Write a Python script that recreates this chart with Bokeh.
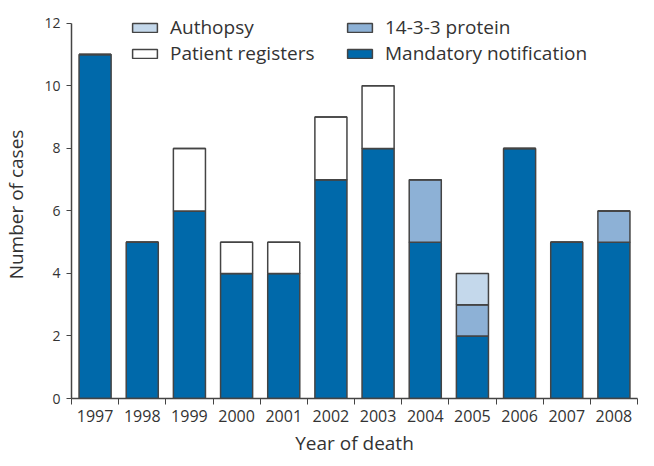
from bokeh.plotting import figure
from bokeh.models import ColumnDataSource, FixedTicker, Legend, LegendItem, Range1d
from bokeh.embed import file_html
from bokeh.resources import INLINE

years = ["1997", "1998", "1999", "2000", "2001", "2002", "2003", "2004", "2005", "2006", "2007", "2008"]
mandatory = [11, 5, 6, 4, 4, 7, 8, 5, 2, 8, 5, 5]
protein = [0, 0, 0, 0, 0, 0, 0, 2, 1, 0, 0, 1]
registers = [0, 0, 2, 1, 1, 2, 2, 0, 0, 0, 0, 0]
autopsy = [0, 0, 0, 0, 0, 0, 0, 0, 1, 0, 0, 0]
y_ticks = [0, 2, 4, 6, 8, 10, 12]

series = ["mandatory", "protein", "registers", "autopsy"]
labels = {"mandatory": "Mandatory notification", "protein": "14-3-3 protein",
          "registers": "Patient registers", "autopsy": "Authopsy"}
colors = {"mandatory": "#0069aa", "protein": "#8db1d6", "registers": "#ffffff", "autopsy": "#c4d8eb"}

FONT = "Open Sans"
TXT = "#333333"

W, H = 638, 458
TOP, BOTTOM, LEFT, RIGHT = 10, 58, 64, 1
FRAME_H = H - TOP - BOTTOM
Y_MAX = 12.41  # frame headroom above the top tick (axis itself bounded to 0..12)

x = [i + 0.5 for i in range(len(years))]
data = dict(x=x, mandatory=mandatory, protein=protein, registers=registers, autopsy=autopsy)
src = ColumnDataSource(data)

p = figure(width=W, height=H, output_backend="svg", toolbar_location=None,
           x_range=Range1d(0, len(years)), y_range=Range1d(0, Y_MAX),
           min_border_left=LEFT, min_border_right=RIGHT, min_border_top=TOP, min_border_bottom=BOTTOM)
p.outline_line_color = None
p.xgrid.grid_line_color = None
p.ygrid.grid_line_color = None
p.background_fill_color = "white"
p.border_fill_color = "white"

renderers = p.vbar_stack(series, x="x", width=0.68, source=src,
                         fill_color=[colors[s] for s in series],
                         line_color="#444444", line_width=1.5)
rmap = dict(zip(series, renderers))

# axes
p.xaxis.ticker = FixedTicker(ticks=x, minor_ticks=list(range(len(years) + 1)))
p.xaxis.major_label_overrides = {xi: y for xi, y in zip(x, years)}
p.xaxis.major_tick_out = 0
p.xaxis.major_tick_in = 0
p.xaxis.minor_tick_out = 6
p.xaxis.minor_tick_in = 0
p.xaxis.minor_tick_line_color = "#444444"
p.xaxis.axis_line_color = "#444444"
p.xaxis.axis_line_width = 1.5
p.xaxis.major_label_text_font = FONT
p.xaxis.major_label_text_font_size = "16px"
p.xaxis.major_label_text_color = TXT
p.xaxis.major_label_standoff = 5
p.xaxis.axis_label = "Year of death"
p.xaxis.axis_label_text_font = FONT
p.xaxis.axis_label_text_font_style = "normal"
p.xaxis.axis_label_text_font_size = "19px"
p.xaxis.axis_label_text_color = TXT
p.xaxis.axis_label_standoff = 5

p.yaxis.ticker = FixedTicker(ticks=y_ticks)
p.yaxis.bounds = (y_ticks[0], y_ticks[-1])
p.yaxis.minor_tick_line_color = None
p.yaxis.major_tick_out = 5
p.yaxis.major_tick_in = 0
p.yaxis.major_tick_line_color = "#444444"
p.yaxis.axis_line_color = "#444444"
p.yaxis.axis_line_width = 1.5
p.yaxis.major_label_text_font = FONT
p.yaxis.major_label_text_font_size = "14px"
p.yaxis.major_label_text_color = TXT
p.yaxis.major_label_standoff = 6
p.yaxis.axis_label = "Number of cases"
p.yaxis.axis_label_text_font = FONT
p.yaxis.axis_label_text_font_style = "normal"
p.yaxis.axis_label_text_font_size = "19px"
p.yaxis.axis_label_text_color = TXT
p.yaxis.axis_label_standoff = 12


def make_legend(keys, loc):
    lg = Legend(items=[LegendItem(label=labels[k], renderers=[rmap[k]]) for k in keys],
                location=loc, orientation="vertical",
                glyph_width=31, glyph_height=11, label_height=20,
                label_text_font=FONT, label_text_font_size="19px", label_text_color=TXT,
                label_standoff=10, spacing=-3, padding=0, margin=0,
                border_line_color=None, background_fill_alpha=0)
    p.add_layout(lg, "center")


make_legend(["autopsy", "registers"], (58, FRAME_H - 58))
make_legend(["protein", "mandatory"], (273, FRAME_H - 58))

open("out.html", "w").write(file_html(p, INLINE))
